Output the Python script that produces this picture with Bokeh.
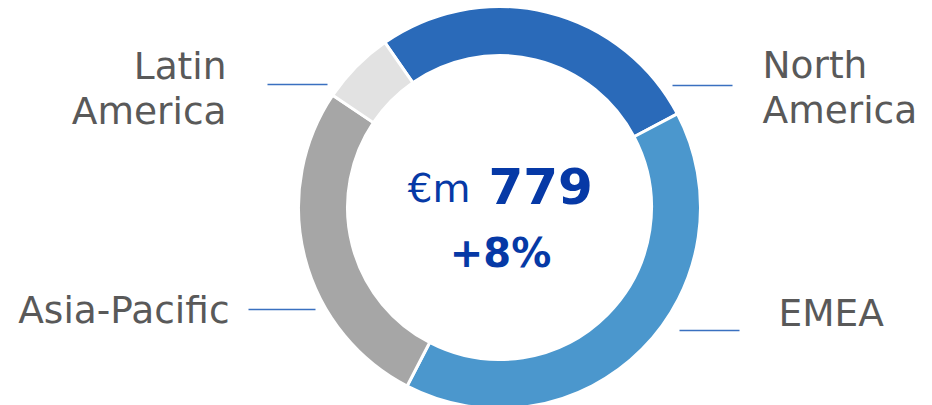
import numpy as np
from bokeh.plotting import figure
from bokeh.models import ColumnDataSource
from bokeh.core.properties import value
from bokeh.embed import file_html
from bokeh.resources import INLINE

# ---- data ----
regions = ["North America", "EMEA", "Asia-Pacific", "Latin America"]
revenue = [210, 314, 209, 46]           # €m
colors = ["#2a6ab9", "#4b97cd", "#a6a6a6", "#e2e2e2"]
label_lines = [["North", "America"], ["EMEA"], ["Asia-Pacific"], ["Latin", "America"]]
total_label = "779"
currency_label = "€m"
growth_label = "+8%"

# ---- layout (page pixel coords -> data coords) ----
W, H = 932, 405
def px(x): return x
def py(y): return H - y
BASE_FIX = 0.36  # em offset correction for baseline rendering

cx, cy = px(499), py(207)
r_out, r_in = 201, 152
start_deg = 124.8  # math angle where first slice begins, going clockwise

vals = np.array(revenue, dtype=float)
frac = vals / vals.sum()
cum = np.concatenate([[0], np.cumsum(frac)])
start = np.deg2rad(start_deg) - cum[:-1] * 2 * np.pi
end = np.deg2rad(start_deg) - cum[1:] * 2 * np.pi

p = figure(width=W, height=H, x_range=(0, W), y_range=(0, H),
           output_backend="svg", toolbar_location=None, min_border=0)
p.axis.visible = False
p.grid.visible = False
p.outline_line_color = None
p.background_fill_color = "white"
p.border_fill_color = "white"

src = ColumnDataSource(dict(start=start, end=end, color=colors, region=regions))
p.annular_wedge(x=cx, y=cy, inner_radius=r_in, outer_radius=r_out,
                start_angle="start", end_angle="end", direction="clock",
                fill_color="color", line_color="white", line_width=3, source=src)

# labels: (page x, first baseline page y, align) per region
label_pos = {
    "North America": (762, 78, "left"),
    "EMEA": (778, 326, "left"),
    "Asia-Pacific": (229, 323, "right"),
    "Latin America": (226, 79, "right"),
}
lfs = 37.5
line_h = 45
tx, ty, tt, ta = [], [], [], []
for reg, lines in zip(regions, label_lines):
    x0, y0, al = label_pos[reg]
    for i, ln in enumerate(lines):
        tx.append(px(x0)); ty.append(py(y0 + i * line_h - BASE_FIX * lfs))
        tt.append(ln); ta.append(al)
lsrc = ColumnDataSource(dict(x=tx, y=ty, text=tt, align=ta))
p.text(x="x", y="y", text="text", text_align="align", text_baseline="alphabetic",
       text_font=value("DejaVu Sans"), text_font_size=f"{lfs}px", text_color="#595959",
       source=lsrc)

# leader lines
leaders = {
    "North America": (672, 732, 85),
    "EMEA": (679, 739, 330),
    "Asia-Pacific": (248, 315, 309),
    "Latin America": (267, 327, 84),
}
sx0, sx1, sy = [], [], []
for reg in regions:
    a, b, y = leaders[reg]
    sx0.append(px(a)); sx1.append(px(b)); sy.append(py(y))
p.segment(x0=sx0, y0=sy, x1=sx1, y1=sy, line_color="#3a70c0", line_width=1.6)

# centre text
blue = "#0639a6"
p.text(x=[px(470)], y=[py(202 - BASE_FIX * 39)], text=[currency_label], text_align="right",
       text_baseline="alphabetic", text_font=value("DejaVu Sans"),
       text_font_size="39px", text_color=blue)
p.text(x=[px(488)], y=[py(203 - BASE_FIX * 50)], text=[total_label], text_align="left",
       text_baseline="alphabetic", text_font=value("DejaVu Sans"),
       text_font_size="50px", text_font_style="bold", text_color=blue)
p.text(x=[px(500)], y=[py(267 - BASE_FIX * 40)], text=[growth_label], text_align="center",
       text_baseline="alphabetic", text_font=value("DejaVu Sans"),
       text_font_size="40px", text_font_style="bold", text_color=blue)

open("out.html", "w").write(file_html(p, INLINE))
